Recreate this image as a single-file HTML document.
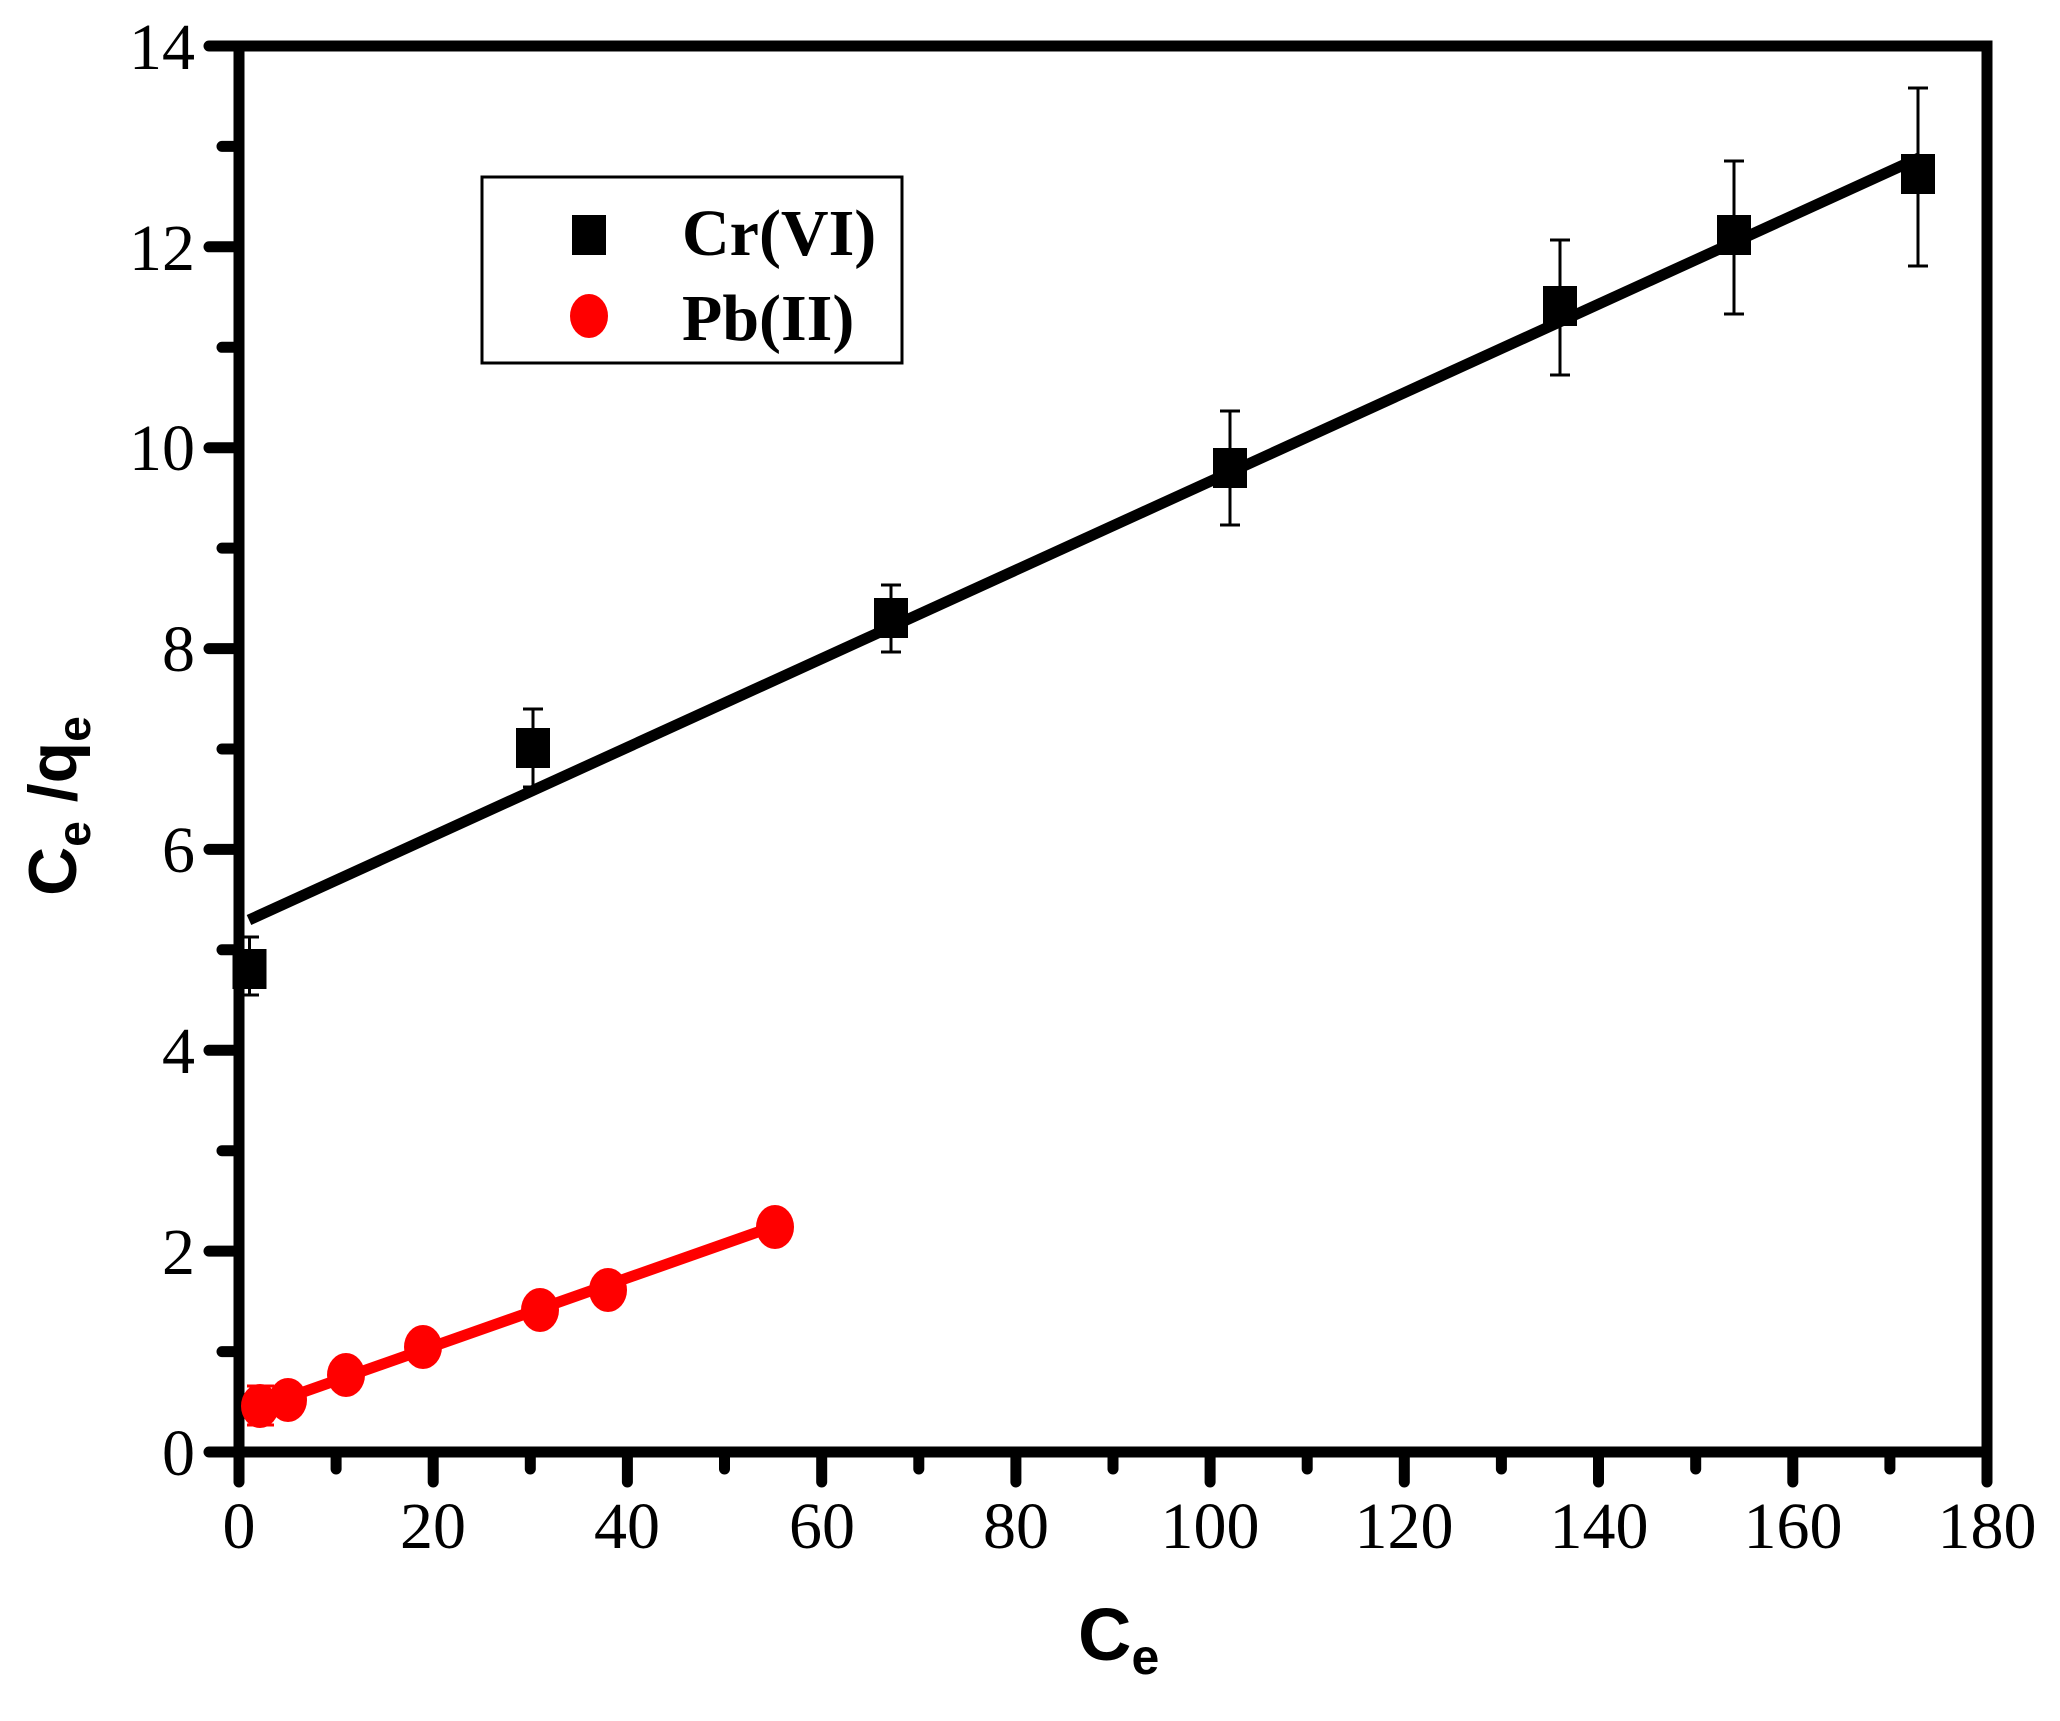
<!DOCTYPE html>
<html><head><meta charset="utf-8"><style>body{margin:0;background:#fff}svg{display:block}</style></head>
<body>
<svg width="2060" height="1721" viewBox="0 0 2060 1721" xmlns="http://www.w3.org/2000/svg">
<rect width="2060" height="1721" fill="#fff"/>
<g stroke="#000" stroke-width="11" stroke-linecap="round" fill="none">
<path d="M239,1452 H1987 V46 H239 Z" stroke-linecap="butt"/>
<path d="M239,1452v30 M433.2,1452v30 M627.4,1452v30 M821.7,1452v30 M1015.9,1452v30 M1210.1,1452v30 M1404.3,1452v30 M1598.5,1452v30 M1792.8,1452v30 M1987,1452v30"/>
<path d="M336.1,1452v17 M530.3,1452v17 M724.5,1452v17 M918.8,1452v17 M1113,1452v17 M1307.2,1452v17 M1501.4,1452v17 M1695.7,1452v17 M1889.9,1452v17"/>
<path d="M239,1452h-30 M239,1251.1h-30 M239,1050.3h-30 M239,849.4h-30 M239,648.6h-30 M239,447.7h-30 M239,246.8h-30 M239,46h-30"/>
<path d="M239,1351.6h-17 M239,1150.7h-17 M239,949.8h-17 M239,749h-17 M239,548.1h-17 M239,347.3h-17 M239,146.4h-17"/>
</g>
<g font-family="Liberation Serif, serif" font-size="66" text-anchor="middle" fill="#000">
<text x="239" y="1548">0</text><text x="433" y="1548">20</text><text x="627" y="1548">40</text><text x="822" y="1548">60</text><text x="1016" y="1548">80</text><text x="1210" y="1548">100</text><text x="1404" y="1548">120</text><text x="1599" y="1548">140</text><text x="1793" y="1548">160</text><text x="1987" y="1548">180</text>
</g>
<g font-family="Liberation Serif, serif" font-size="66" text-anchor="end" fill="#000">
<text x="195" y="1475">0</text><text x="195" y="1274">2</text><text x="195" y="1073">4</text><text x="195" y="872">6</text><text x="195" y="671">8</text><text x="195" y="470">10</text><text x="195" y="270">12</text><text x="195" y="69">14</text>
</g>
<text x="1078" y="1660" font-family="Liberation Sans, sans-serif" font-weight="bold" font-size="74">C<tspan font-size="50" dy="14">e</tspan></text>
<g transform="translate(76,806) rotate(-90)">
<text x="0" y="0" text-anchor="middle" font-family="Liberation Sans, sans-serif" font-weight="bold" font-size="68">C<tspan font-size="46" dy="14">e</tspan><tspan dy="-14"> /q</tspan><tspan font-size="46" dy="14">e</tspan></text>
</g>
<line x1="249" y1="920" x2="1921" y2="157" stroke="#000" stroke-width="11"/>
<g stroke="#000" stroke-width="3">
<path d="M249.5,995V937 M240,995h19 M240,937h19"/>
<path d="M533,787V709 M523,787h20 M523,709h20"/>
<path d="M891,652V585 M881,652h20 M881,585h20"/>
<path d="M1230,525V411 M1220,525h20 M1220,411h20"/>
<path d="M1560,375V240 M1550,375h20 M1550,240h20"/>
<path d="M1734,314V161 M1724,314h20 M1724,161h20"/>
<path d="M1918,266V88 M1908,266h20 M1908,88h20"/>
</g>
<g fill="#000">
<rect x="232.5" y="949" width="34" height="40"/>
<rect x="516" y="728" width="34" height="40"/>
<rect x="874" y="598" width="34" height="40"/>
<rect x="1213" y="448" width="34" height="40"/>
<rect x="1543" y="286" width="34" height="40"/>
<rect x="1717" y="215" width="34" height="40"/>
<rect x="1901" y="154" width="34" height="40"/>
</g>
<line x1="258" y1="1408" x2="775" y2="1226" stroke="#f00" stroke-width="11"/>
<path d="M260,1425V1386 M247,1425h27 M247,1386h27" stroke="#f00" stroke-width="3"/>
<g fill="#f00">
<ellipse cx="260" cy="1406" rx="19" ry="22"/>
<ellipse cx="288" cy="1400" rx="19" ry="22"/>
<ellipse cx="346" cy="1375" rx="19" ry="22"/>
<ellipse cx="423" cy="1347" rx="19" ry="22"/>
<ellipse cx="540" cy="1310" rx="19" ry="22"/>
<ellipse cx="608" cy="1290" rx="19" ry="22"/>
<ellipse cx="775" cy="1227" rx="19" ry="22"/>
</g>
<rect x="482" y="177" width="420" height="186" fill="none" stroke="#000" stroke-width="3"/>
<rect x="572" y="215" width="34" height="40" fill="#000"/>
<ellipse cx="589" cy="316" rx="19" ry="22" fill="#f00"/>
<g font-family="Liberation Serif, serif" font-weight="bold" font-size="66" fill="#000">
<text x="682" y="255">Cr(VI)</text>
<text x="682" y="340">Pb(II)</text>
</g>
</svg>
</body></html>
